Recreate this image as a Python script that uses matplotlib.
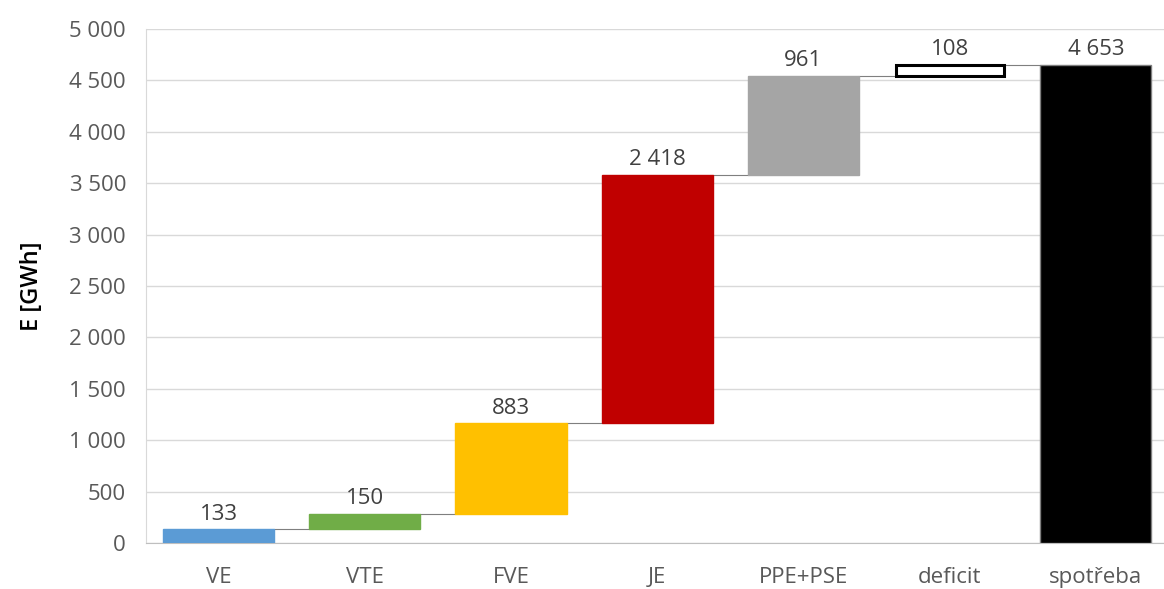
import matplotlib
matplotlib.use("Agg")
import matplotlib.pyplot as plt
from matplotlib.ticker import FuncFormatter

categories = ["VE", "VTE", "FVE", "JE", "PPE+PSE", "deficit", "spotřeba"]
values = [133, 150, 883, 2418, 961, 108, 4653]
is_total = [False, False, False, False, False, False, True]
colors = ["#5b9bd5", "#70ad47", "#ffc000", "#c00000", "#a5a5a5", "#ffffff", "#000000"]
edges = ["#5b9bd5", "#70ad47", "#ffc000", "#c00000", "#a5a5a5", "#000000", "#7f7f7f"]

plt.rcParams['font.family'] = ['Open Sans', 'DejaVu Sans']

fig = plt.figure(figsize=(11.64, 5.89), dpi=100)
ax = fig.add_axes([145.5/1164, 1-543/589, (1169-145.5)/1164, (543-29)/589])

bottoms = []
tops = []
cum = 0
for v, t in zip(values, is_total):
    if t:
        bottoms.append(0)
        tops.append(v)
    else:
        bottoms.append(cum)
        cum += v
        tops.append(cum)

x = list(range(len(categories)))
w = 0.76
for i in x:
    lw = 2.2 if i == 5 else 1.0
    h = tops[i] - bottoms[i]
    ax.bar(i, h, bottom=bottoms[i], width=w if i != 5 else w - 0.02, color=colors[i],
           edgecolor=edges[i], linewidth=lw, zorder=3)
    ax.text(i, tops[i] + 45, f"{values[i]:,}".replace(",", " "), ha="center", va="bottom",
            fontsize=16, color="#404040", zorder=4)
    if i < len(x) - 1:
        ax.plot([i + w/2, i + 1 - w/2], [tops[i], tops[i]], color="#7f7f7f", lw=0.8, zorder=2)

ax.set_ylim(0, 5000)
ax.set_xlim(-0.5, 6.5)
ax.set_yticks(range(0, 5001, 500))
ax.yaxis.set_major_formatter(FuncFormatter(lambda v, p: f"{int(v):,}".replace(",", " ")))
ax.set_xticks(x)
ax.set_xticklabels(categories)
ax.grid(axis="y", color="#d9d9d9", lw=1, zorder=0)
ax.tick_params(axis="both", length=0, colors="#595959", labelsize=16)
ax.tick_params(axis="x", pad=17)
ax.tick_params(axis="y", pad=14)
for s in ["top", "right"]:
    ax.spines[s].set_visible(False)
ax.spines["left"].set_color("#d9d9d9")
ax.spines["bottom"].set_color("#bfbfbf")
ax.set_ylabel("E [GWh]", fontsize=17, fontweight="semibold", color="#000000")
ax.yaxis.set_label_coords((44 - 145.5) / (1169 - 145.5), 0.5)

fig.savefig("out.png", dpi=100)
